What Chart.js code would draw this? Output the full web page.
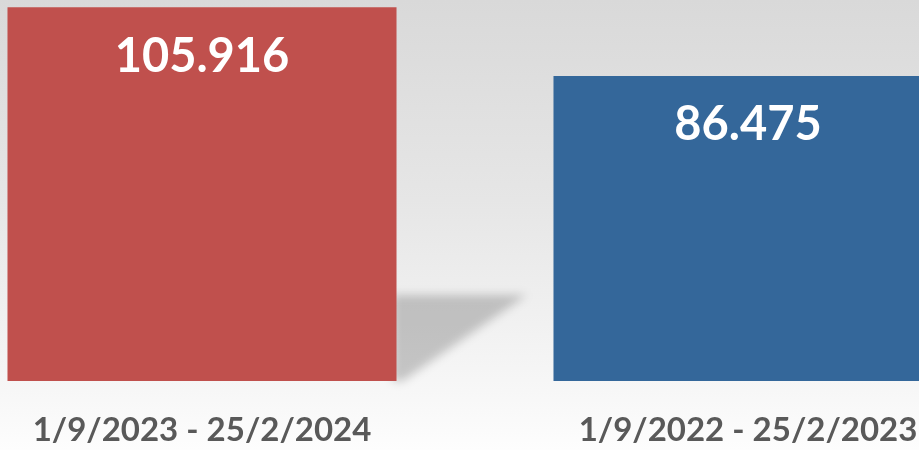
<!DOCTYPE html>
<html>
<head>
<meta charset="utf-8">
<script src="https://cdn.jsdelivr.net/npm/chart.js@4"></script>
<style>
  html, body { margin: 0; padding: 0; }
  body {
    width: 919px; height: 450px; overflow: hidden; position: relative;
    background: linear-gradient(to bottom, #d9d9d9 0px, #e6e6e6 200px, #f6f6f6 380px, #fdfdfd 450px);
  }
  #wrap { position: absolute; left: -71px; top: 0; width: 1092px; height: 450px; }
</style>
</head>
<body>
<div id="wrap"><canvas id="periodChart"></canvas></div>
<script>
// period totals
const periods = ['1/9/2023 - 25/2/2024', '1/9/2022 - 25/2/2023'];
const totals = [105916, 86475];
const barColors = ['#c0504d', '#34679a'];

// soft diagonal shadow behind the first bar
const shadowPlugin = {
    id: 'barShadow',
    beforeDatasetsDraw(chart) {
        const bar = chart.getDatasetMeta(0).data[0];
        if (!bar) return;
        const ctx = chart.ctx;
        const right = bar.x + bar.width / 2;
        const base = bar.base;
        ctx.save();
        ctx.filter = 'blur(5px)';
        ctx.fillStyle = 'rgba(0,0,0,0.2)';
        ctx.beginPath();
        ctx.moveTo(right - 4, base - 86);
        ctx.lineTo(right + 130, base - 86);
        ctx.lineTo(right + 6, base);
        ctx.lineTo(right - 4, base);
        ctx.closePath();
        ctx.fill();
        ctx.restore();
    }
};

// value labels inside the bars
const valueLabels = {
    id: 'valueLabels',
    afterDatasetsDraw(chart) {
        const ctx = chart.ctx;
        const meta = chart.getDatasetMeta(0);
        ctx.save();
        ctx.font = 'bold 47px Lato';
        ctx.fillStyle = '#ffffff';
        ctx.textAlign = 'center';
        ctx.textBaseline = 'middle';
        meta.data.forEach((bar, i) => {
            ctx.fillText(totals[i].toLocaleString('de-DE'), bar.x, bar.y + 49);
        });
        ctx.restore();
    }
};

const ctx = document.getElementById('periodChart').getContext('2d');
new Chart(ctx, {
    type: 'bar',
    data: {
        labels: periods,
        datasets: [{
            data: totals,
            backgroundColor: barColors,
            borderWidth: 0,
            categoryPercentage: 1,
            barPercentage: 0.7125
        }]
    },
    options: {
        responsive: true,
        maintainAspectRatio: false,
        animation: false,
        layout: { padding: { top: 0, bottom: -30 } },
        plugins: {
            legend: { display: false },
            tooltip: { enabled: false }
        },
        scales: {
            x: {
                grid: { display: false, drawTicks: false },
                border: { display: false },
                ticks: {
                    color: '#595959',
                    padding: 33,
                    font: { family: 'Lato', size: 33, weight: 'bold', lineHeight: 1 }
                }
            },
            y: {
                display: false,
                min: 0,
                max: 108000
            }
        }
    },
    plugins: [shadowPlugin, valueLabels]
});
</script>
</body>
</html>
